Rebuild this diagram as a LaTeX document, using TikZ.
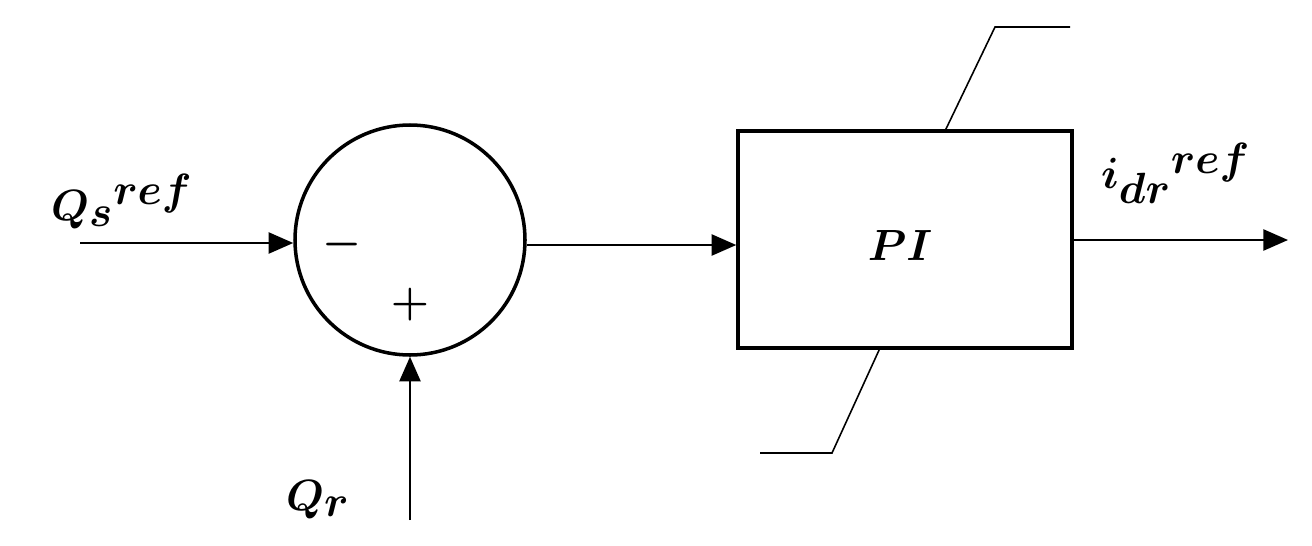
\documentclass[tikz,border=0pt]{standalone}
\usetikzlibrary{arrows.meta}
\begin{document}
\begin{tikzpicture}[x=0.02cm,y=-0.02cm,
  conn/.style={line width=1.2pt,-{Triangle[length=14pt,width=12pt]}},
  thin/.style={line width=0.9pt},
  lbl/.style={font=\fontsize{58}{64}\selectfont\boldmath},
  blk/.style={draw,line width=2pt,minimum width=334*0.02cm,minimum height=217*0.02cm}]
\useasboundingbox (0,0) rectangle (1312,545);
\node[circle,draw,line width=2pt,minimum size=230*0.02cm,inner sep=0] (sum) at (410,240) {};
\node[blk] (pi) at (905,239.5) {};
\node[lbl] at (900,245) {$PI$};
\coordinate (in) at (80,243);
\coordinate (qr) at (410,520);
\coordinate (out) at (1288,240);
\draw[conn] (in) -- (sum.west|-in);
\draw[conn] (qr) -- (sum.south);
\draw[conn] (sum.east|-0,245) -- (pi.west|-0,245);
\draw[conn] (pi.east|-out) -- (out);
\node[lbl,font=\fontsize{80}{86}\selectfont\boldmath] at (342,245) {$-$};
\node[lbl,font=\fontsize{80}{86}\selectfont\boldmath] at (410,305) {$+$};
\node[lbl,anchor=south west] at (45,235) {$Q_s{}^{ref}$};
\node[lbl,anchor=south west] at (280,525) {$Q_r$};
\node[lbl,anchor=south west] at (1095,210) {$i_{dr}{}^{ref}$};
\coordinate (t1) at (945,131); \coordinate (t2) at (995,27); \coordinate (t3) at (1070,27);
\coordinate (b1) at (880,348); \coordinate (b2) at (832,453); \coordinate (b3) at (760,453);
\draw[thin] (t1) -- (t2) -- (t3);
\draw[thin] (b1) -- (b2) -- (b3);
\end{tikzpicture}
\end{document}
